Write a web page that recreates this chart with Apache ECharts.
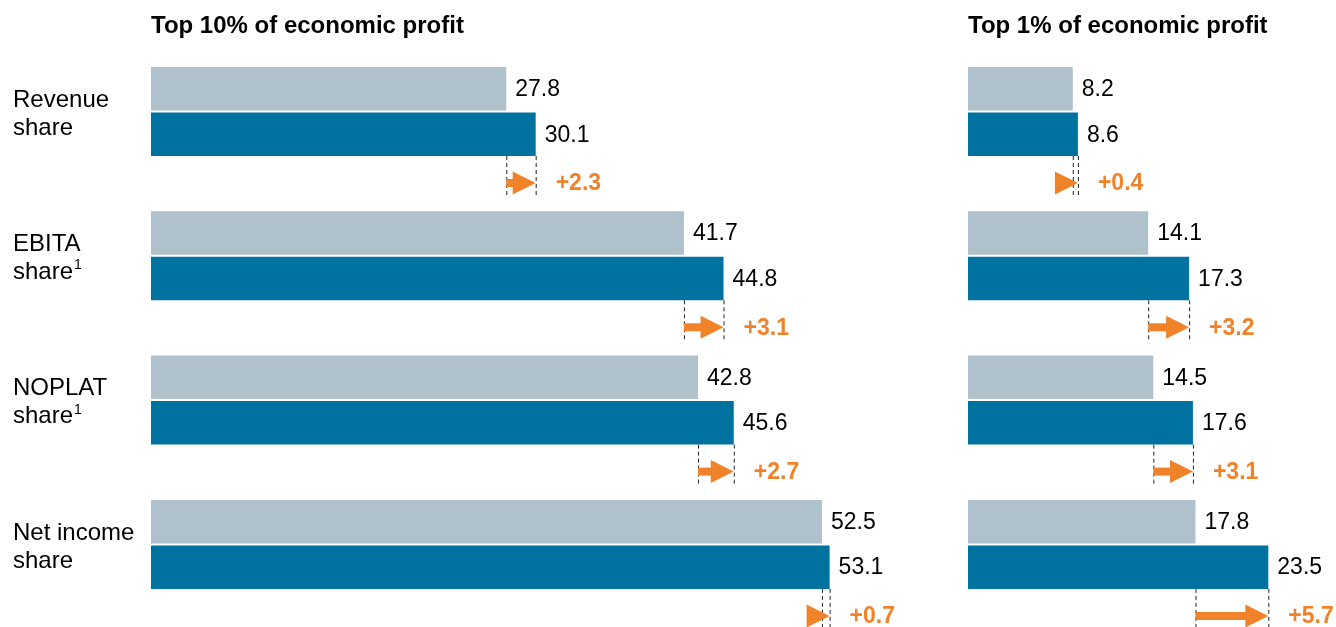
<!DOCTYPE html>
<html>
<head>
<meta charset="utf-8" />
<title>Economic profit shares</title>
<script src="https://cdn.jsdelivr.net/npm/echarts@6/dist/echarts.min.js"></script>
<style>
  html, body { margin: 0; padding: 0; background: #fff; overflow: hidden; }
  /* taller than the window: the last change row sits at the bottom edge */
  #chart { width: 1336px; height: 660px; }
</style>
</head>
<body>
<div id="chart"></div>
<script>
// categories (rows) and footnote markers
var categories = ['Revenue\nshare', 'EBITA\nshare', 'NOPLAT\nshare', 'Net income\nshare'];
var footnotes = ['', '1', '1', ''];

// Top 10% of economic profit
var top10Before = [27.8, 41.7, 42.8, 52.5];
var top10After = [30.1, 44.8, 45.6, 53.1];
var top10Delta = [2.3, 3.1, 2.7, 0.7];

// Top 1% of economic profit
var top1Before = [8.2, 14.1, 14.5, 17.8];
var top1After = [8.6, 17.3, 17.6, 23.5];
var top1Delta = [0.4, 3.2, 3.1, 5.7];

var panelTitles = ['Top 10% of economic profit', 'Top 1% of economic profit'];

var FONT = 'Liberation Sans';
var GREY = '#afc1cb';
var BLUE = '#00729f';
var ORANGE = '#f0822a';

var chart = echarts.init(document.getElementById('chart'));

// bars: kind 0 = before (grey, upper), kind 1 = after (blue, lower)
function barRender(kind) {
  return function (params, api) {
    var v = api.value(0);
    var g = api.value(1);
    var p0 = api.coord([0, g]);
    var p1 = api.coord([v, g]);
    var band = api.size([0, 1])[1];
    var top = p0[1] - band / 2;
    var y = top + (kind === 0 ? 5 : 50.5);
    var h = 43.5;
    return {
      type: 'group',
      children: [{
        type: 'rect',
        shape: { x: p0[0], y: y, width: p1[0] - p0[0], height: h },
        style: { fill: kind === 0 ? GREY : BLUE }
      }, {
        type: 'text',
        style: {
          x: p1[0] + 9, y: y + h / 2 + 1,
          text: v.toFixed(1),
          fill: '#000', font: '23px "' + FONT + '"',
          verticalAlign: 'middle', align: 'left'
        }
      }]
    };
  };
}

// change row: dashed guides + arrow + delta label
function arrowRender(params, api) {
  var b = api.value(0), a = api.value(1), g = api.value(2), d = api.value(3);
  var pb = api.coord([b, g]);
  var pa = api.coord([a, g]);
  var band = api.size([0, 1])[1];
  var top = pb[1] - band / 2;
  var y0 = top + 94, y1 = top + 134;
  var cy = top + 121;
  var tip = pa[0];
  var headL = 23, headH = 11.5, shaft = 4;
  var headStart = tip - headL;
  var children = [];
  [pb[0], pa[0]].forEach(function (x) {
    children.push({
      type: 'line',
      shape: { x1: x + 0.5, y1: y0, x2: x + 0.5, y2: y1 },
      style: { stroke: '#222', lineWidth: 1, lineDash: [4, 3] }
    });
  });
  if (headStart > pb[0]) {
    children.push({
      type: 'rect',
      shape: { x: pb[0], y: cy - shaft, width: headStart - pb[0] + 1, height: shaft * 2 },
      style: { fill: ORANGE }
    });
  }
  children.push({
    type: 'polygon',
    shape: { points: [[headStart, cy - headH], [tip, cy], [headStart, cy + headH]] },
    style: { fill: ORANGE }
  });
  children.push({
    type: 'text',
    style: {
      x: tip + 20, y: cy + 1,
      text: '+' + d.toFixed(1),
      fill: ORANGE, font: 'bold 23px "' + FONT + '"',
      verticalAlign: 'middle', align: 'left'
    }
  });
  return { type: 'group', children: children };
}

function barData(vals) {
  return vals.map(function (v, i) { return [v, i]; });
}
function arrowData(before, after, delta) {
  return before.map(function (v, i) { return [v, after[i], i, delta[i]]; });
}

var gridTop = 62, gridHeight = 577.2;

chart.setOption({
  animation: false,
  backgroundColor: '#fff',
  title: [{
    text: panelTitles[0], left: 151, top: 14, padding: 0,
    textStyle: { fontFamily: FONT, fontSize: 24, fontWeight: 'bold', color: '#000' }
  }, {
    text: panelTitles[1], left: 968, top: 14, padding: 0,
    textStyle: { fontFamily: FONT, fontSize: 24, fontWeight: 'bold', color: '#000' }
  }],
  grid: [
    { left: 151, top: gridTop, width: 60 * 12.78, height: gridHeight },
    { left: 968, top: gridTop, width: 28 * 12.78, height: gridHeight }
  ],
  xAxis: [
    { gridIndex: 0, type: 'value', min: 0, max: 60, show: false },
    { gridIndex: 1, type: 'value', min: 0, max: 28, show: false }
  ],
  yAxis: [{
    gridIndex: 0, type: 'category', data: categories, inverse: true,
    axisLine: { show: false }, axisTick: { show: false }, splitLine: { show: false },
    axisLabel: {
      align: 'left', margin: 138, verticalAlign: 'middle',
      padding: [0, 0, 40, 0],
      formatter: function (v, i) {
        return '{a|' + v + '}' + (footnotes[i] ? '{sup|' + footnotes[i] + '}' : '');
      },
      rich: {
        a: { fontFamily: FONT, fontSize: 24, lineHeight: 28, color: '#000' },
        sup: { fontFamily: FONT, fontSize: 14, lineHeight: 28, color: '#000', padding: [0, 0, 14, 1] }
      }
    }
  }, {
    gridIndex: 1, type: 'category', data: categories, inverse: true,
    axisLine: { show: false }, axisTick: { show: false }, splitLine: { show: false },
    axisLabel: { show: false }
  }],
  series: [
    { type: 'custom', xAxisIndex: 0, yAxisIndex: 0, renderItem: barRender(0), encode: { x: 0, y: 1 }, data: barData(top10Before), clip: false },
    { type: 'custom', xAxisIndex: 0, yAxisIndex: 0, renderItem: barRender(1), encode: { x: 0, y: 1 }, data: barData(top10After), clip: false },
    { type: 'custom', xAxisIndex: 0, yAxisIndex: 0, renderItem: arrowRender, encode: { x: [0, 1], y: 2 }, data: arrowData(top10Before, top10After, top10Delta), clip: false },
    { type: 'custom', xAxisIndex: 1, yAxisIndex: 1, renderItem: barRender(0), encode: { x: 0, y: 1 }, data: barData(top1Before), clip: false },
    { type: 'custom', xAxisIndex: 1, yAxisIndex: 1, renderItem: barRender(1), encode: { x: 0, y: 1 }, data: barData(top1After), clip: false },
    { type: 'custom', xAxisIndex: 1, yAxisIndex: 1, renderItem: arrowRender, encode: { x: [0, 1], y: 2 }, data: arrowData(top1Before, top1After, top1Delta), clip: false }
  ]
});

window.onresize = function () {
  chart.resize();
};
</script>
</body>
</html>
